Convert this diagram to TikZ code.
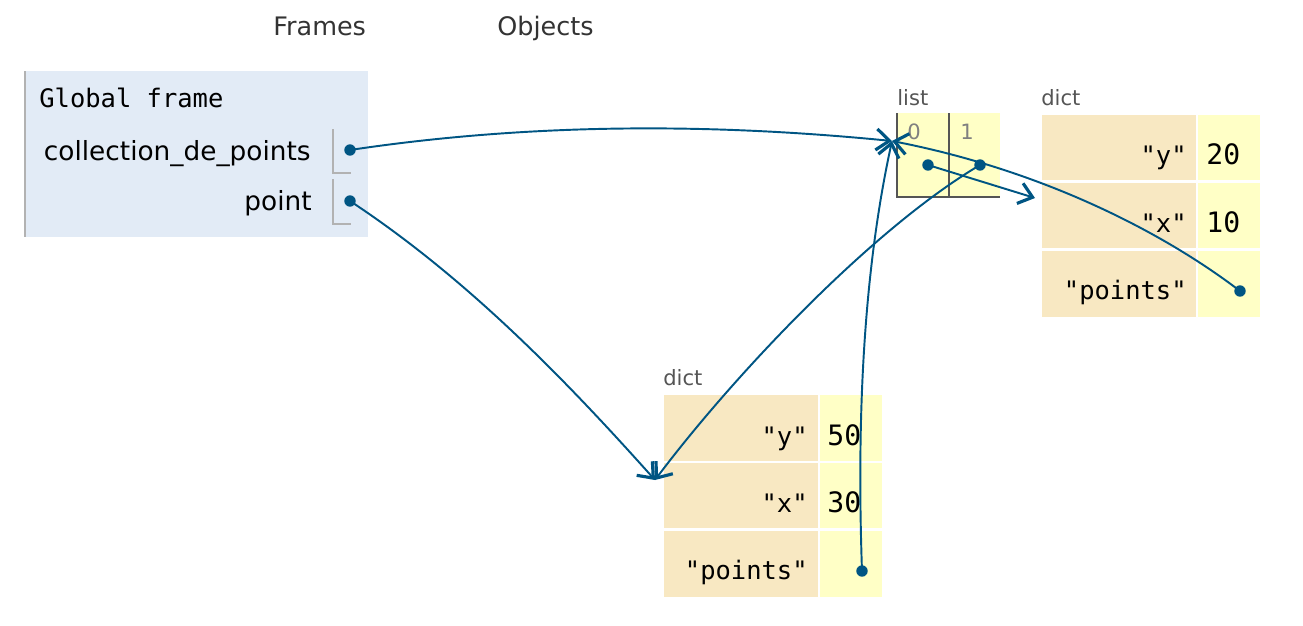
\documentclass[tikz,border=0pt]{standalone}
\usepackage{fontspec}
\setmainfont{DejaVu Sans}
\setmonofont{DejaVu Sans Mono}
\usetikzlibrary{arrows.meta}
\definecolor{framebg}{HTML}{E2EBF6}
\definecolor{keybg}{HTML}{F8E8C2}
\definecolor{valbg}{HTML}{FFFFC6}
\definecolor{arrowblue}{HTML}{005583}
\definecolor{boxline}{HTML}{555555}
\begin{document}
\begin{tikzpicture}[x=0.02cm, y=-0.02cm, >={Straight Barb[length=7.5pt,width=12pt,line width=1.8pt]},
  ptr/.style={->, line width=1.1pt, arrowblue},
  dot/.style={circle, fill=arrowblue, inner sep=0pt, minimum size=6.5pt},
  head/.style={font=\fontsize{14.5}{17}\selectfont, text=black!80, inner sep=0pt, anchor=base west},
  var/.style={font=\fontsize{15}{18}\selectfont, inner sep=0pt, anchor=base east},
  kind/.style={font=\fontsize{12}{14}\selectfont, text=boxline, inner sep=0pt, anchor=base west},
  key/.style={font=\ttfamily\fontsize{14.5}{17}\selectfont, inner sep=0pt, anchor=base east},
  val/.style={font=\ttfamily\fontsize{16}{19}\selectfont, inner sep=0pt, anchor=base west}]
\useasboundingbox (0,0) rectangle (1303,626);

\node[head] (frames) at (273,35) {Frames};
\node[head] (objects) at (497,35) {Objects};

% global frame
\fill[framebg] (24,71) rectangle (368,237);
\draw[gray!60, line width=1pt] (25,71) -- (25,237);
\node[key, anchor=base west] (gf) at (39,107) {Global frame};
\node[var] (vcoll) at (311,160) {collection\_de\_points};
\node[var] (vpoint) at (312,210) {point};
\draw[gray!60, line width=1.1pt] (333,129) |- (351,173);
\draw[gray!60, line width=1.1pt] (333,179) |- (351,224);
\node[dot] (pcoll) at (350,150) {};
\node[dot] (ppoint) at (350,201) {};

% list
\node[kind] (tlist) at (897,105) {list};
\fill[valbg] (897,113) rectangle (1000,197);
\draw[boxline, line width=1.2pt] (897,113) -- (897,197) -- (1000,197);
\draw[boxline, line width=1.2pt] (949,113) -- (949,197);
\node[kind, text=gray] (i0) at (907,139) {0};
\node[kind, text=gray] (i1) at (960,139) {1};
\node[dot] (l0) at (928,165) {};
\node[dot] (l1) at (980,165) {};
\coordinate (list) at (892,141);

% dict on the right
\node[kind] (tdicta) at (1041,105) {dict};
\fill[keybg] (1042,115) rectangle (1196,180);
\fill[keybg] (1042,183) rectangle (1196,248);
\fill[keybg] (1042,251) rectangle (1196,317);
\fill[valbg] (1198,115) rectangle (1260,180);
\fill[valbg] (1198,183) rectangle (1260,248);
\fill[valbg] (1198,251) rectangle (1260,317);
\node[key] (ay) at (1187,164) {"y"};
\node[val] (a20) at (1206,164) {20};
\node[key] (ax) at (1187,232) {"x"};
\node[val] (a10) at (1206,232) {10};
\node[key] (apts) at (1187,299) {"points"};
\node[dot] (pa) at (1240,291) {};
\coordinate (dicta) at (1035,198);

% dict at the bottom
\node[kind] (tdictb) at (663,385) {dict};
\fill[keybg] (664,395) rectangle (818,461);
\fill[keybg] (664,463) rectangle (818,528);
\fill[keybg] (664,531) rectangle (818,597);
\fill[valbg] (820,395) rectangle (882,461);
\fill[valbg] (820,463) rectangle (882,528);
\fill[valbg] (820,531) rectangle (882,597);
\node[key] (by) at (808,445) {"y"};
\node[val] (b50) at (827,445) {50};
\node[key] (bx) at (808,512) {"x"};
\node[val] (b30) at (827,512) {30};
\node[key] (bpts) at (808,579) {"points"};
\node[dot] (pb) at (862,571) {};
\coordinate (dictb) at (655,480);

% pointers
\draw[ptr] (pcoll.center) .. controls (530,123) and (710,123) .. (list);
\draw[ptr] (ppoint.center) .. controls (470,280) and (570,385) .. (dictb);
\draw[ptr] (l0.center) -- (dicta);
\draw[ptr] (l1.center) .. controls (870,230) and (730,380) .. (dictb);
\draw[ptr] (pb.center) .. controls (856,400) and (866,260) .. (list);
\draw[ptr] (pa.center) .. controls (1160,230) and (1040,170) .. (list);
\end{tikzpicture}
\end{document}
